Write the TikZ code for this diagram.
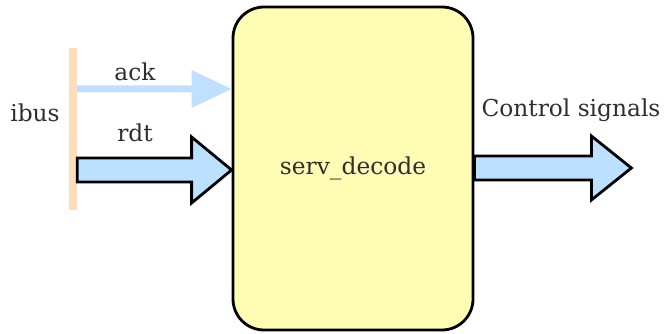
\documentclass[tikz,border=0pt]{standalone}
\usepackage{fontspec}
\setmainfont{DejaVu Serif}
\usetikzlibrary{calc}
\definecolor{boxfill}{HTML}{FFFCB4}
\definecolor{arrowfill}{HTML}{BCE0FF}
\definecolor{ackblue}{HTML}{BFE1FF}
\definecolor{busbar}{HTML}{FFDDB8}
\tikzset{
  module/.style={draw=black, line width=2.8pt, fill=boxfill, rounded corners=31pt,
    minimum width=240pt, minimum height=323pt, inner sep=0pt},
  bar/.style={fill=busbar, draw=none, minimum width=8pt, minimum height=162pt, inner sep=0pt},
  lbl/.style={font=\fontsize{23.3}{27}\selectfont, text=black!82, inner sep=0pt},
  blockarrow/.style={fill=arrowfill, draw=black, line width=2.8pt, line join=miter},
}
\begin{document}
\begin{tikzpicture}[x=1pt,y=-1pt]
  \useasboundingbox (0,0) rectangle (670,334);
  % decoder block
  \node[module] (dec) at (353,168.5) {};
  \node[lbl] at (dec.center) {serv\_decode};
  % instruction bus
  \node[bar] (bus) at (73,129) {};
  \node[lbl] (ibuslbl) at (35,113) {ibus};
  % ack: thin arrow into the block
  \coordinate (ackS) at ($(bus.east)+(0,-40)$);
  \coordinate (ackT) at (dec.west |- ackS);
  \fill[ackblue] (ackS) ++(0,-3.5) -- ($(ackT)+(-40,-3.5)$) -- ($(ackT)+(-40,-19)$)
     -- (ackT) -- ($(ackT)+(-40,19)$) -- ($(ackT)+(-40,3.5)$) -- ($(ackS)+(0,3.5)$) -- cycle;
  \node[lbl] (acklbl) at (135,72) {ack};
  % rdt: block arrow into the block
  \coordinate (rdtS) at ($(bus.east)+(0,41)$);
  \coordinate (rdtT) at (dec.west |- rdtS);
  \filldraw[blockarrow] ($(rdtS)+(0,-12)$) -- ($(rdtT)+(-40,-12)$) -- ($(rdtT)+(-40,-33)$)
     -- (rdtT) -- ($(rdtT)+(-40,33)$) -- ($(rdtT)+(-40,12)$) -- ($(rdtS)+(0,12)$) -- cycle;
  \node[lbl] (rdtlbl) at (135,133) {rdt};
  % control signals out of the block
  \coordinate (ctlS) at (dec.east |- 0,168);
  \coordinate (ctlT) at ($(ctlS)+(157,0)$);
  \filldraw[blockarrow] ($(ctlS)+(0,-12)$) -- ($(ctlT)+(-40,-12)$) -- ($(ctlT)+(-40,-32)$)
     -- (ctlT) -- ($(ctlT)+(-40,32)$) -- ($(ctlT)+(-40,12)$) -- ($(ctlS)+(0,12)$) -- cycle;
  \node[lbl] (ctllbl) at (571,110) {Control signals};
\end{tikzpicture}
\end{document}
